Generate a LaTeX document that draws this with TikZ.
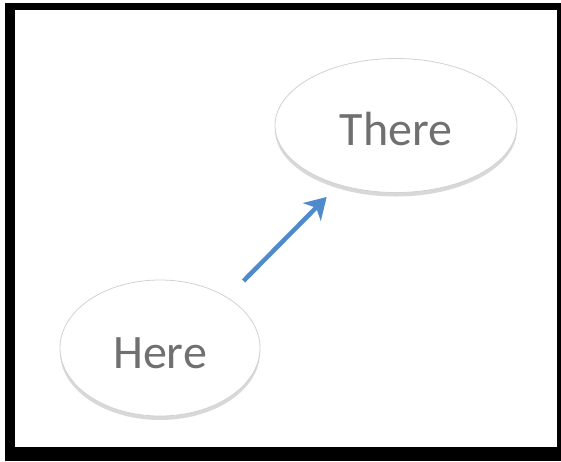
\documentclass[tikz,border=0pt]{standalone}
\usepackage{fontspec}
\setmainfont{Carlito}
\usetikzlibrary{arrows.meta,shapes.geometric,shadows}
\definecolor{arrowblue}{RGB}{79,139,204}
\definecolor{txtgray}{RGB}{112,112,112}
\tikzset{
  bubble/.style={ellipse, draw=gray!35, line width=0.8pt, fill=white, inner sep=0pt,
    text=txtgray, font=\fontsize{48}{50}\selectfont, text height=40pt, text depth=0pt,
    drop shadow={opacity=0.3, shadow xshift=0pt, shadow yshift=-4pt}},
  link/.style={draw=arrowblue, line width=4.5pt, -{Stealth[length=21pt,width=25pt,inset=6pt]}}
}
\begin{document}
\begin{tikzpicture}[x=1pt,y=-1pt]
\useasboundingbox (0,0) rectangle (561,461);
\fill[black] (5,3) rectangle (561,461);
\fill[white] (15,10) rectangle (557,447);
\node[bubble, minimum width=242pt, minimum height=134pt] (There) at (396,125.5) {There};
\node[bubble, minimum width=200pt, minimum height=136pt] (Here) at (160,348) {Here};
\draw[link, shorten <=23pt, shorten >=17pt] (Here.37) -- (There.226);
\end{tikzpicture}
\end{document}
